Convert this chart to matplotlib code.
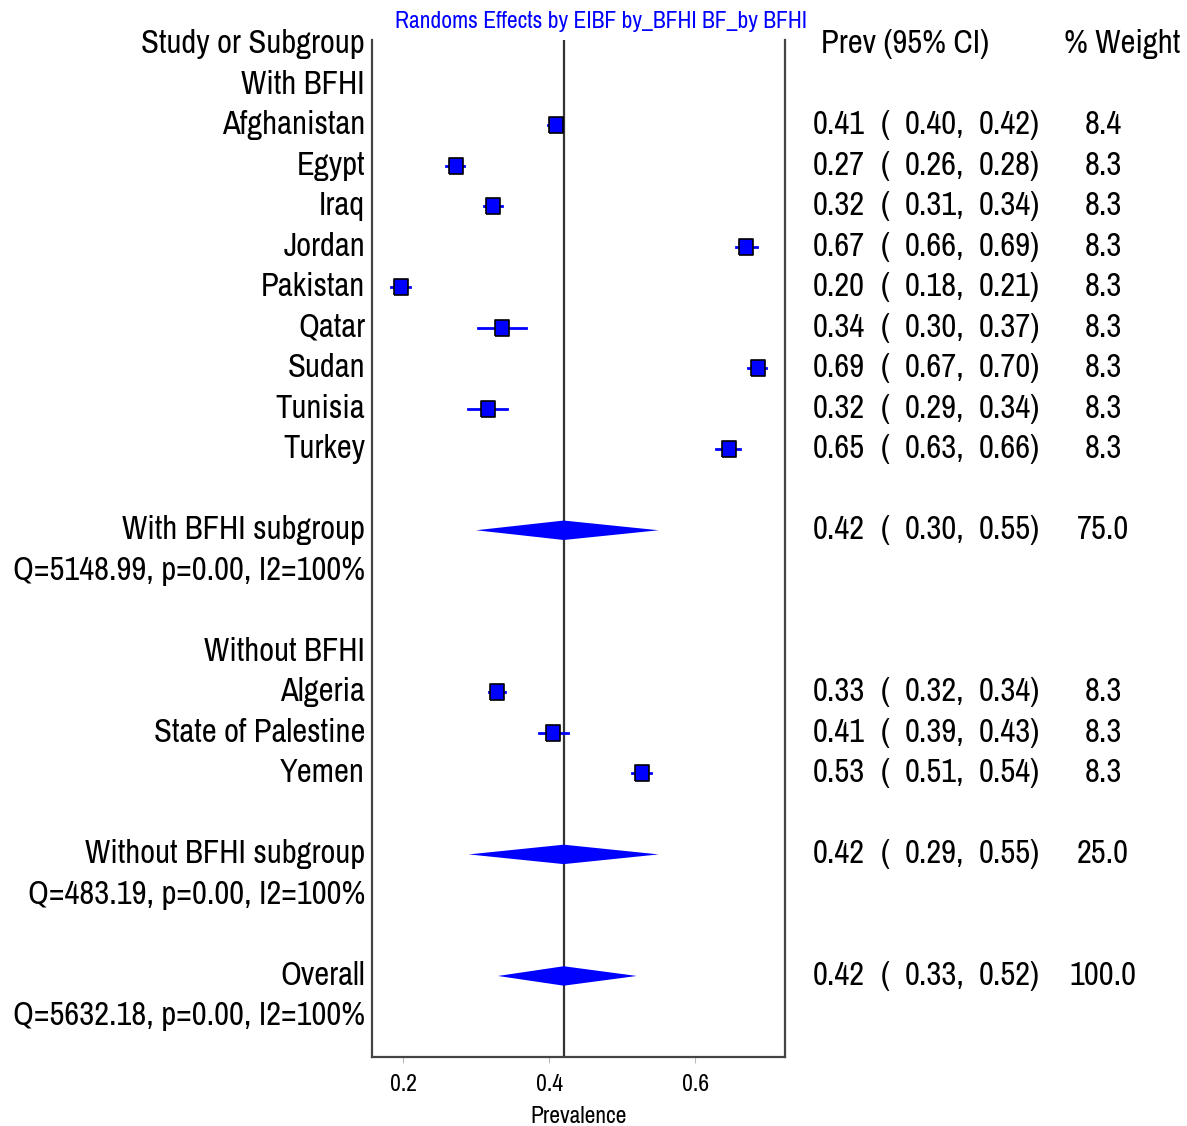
import matplotlib
matplotlib.use('Agg')
import matplotlib.pyplot as plt
from matplotlib import font_manager, transforms

names = set(f.name for f in font_manager.fontManager.ttflist)
font = next((n for n in ['Liberation Sans Narrow', 'Arial Narrow', 'Archivo Narrow', 'Roboto Condensed']
             if n in names), 'Liberation Sans')
plt.rcParams['font.family'] = [font, 'DejaVu Sans']

# rows of the table, top to bottom (row index = position)
labels = ['Study or Subgroup', 'With BFHI', 'Afghanistan', 'Egypt', 'Iraq', 'Jordan', 'Pakistan',
          'Qatar', 'Sudan', 'Tunisia', 'Turkey', '', 'With BFHI subgroup',
          'Q=5148.99, p=0.00, I2=100%', '', 'Without BFHI', 'Algeria', 'State of Palestine',
          'Yemen', '', 'Without BFHI subgroup', 'Q=483.19, p=0.00, I2=100%', '', 'Overall',
          'Q=5632.18, p=0.00, I2=100%']

study_rows = [2, 3, 4, 5, 6, 7, 8, 9, 10, 16, 17, 18]
prev = [0.409, 0.272, 0.323, 0.669, 0.197, 0.335, 0.686, 0.316, 0.646, 0.329, 0.406, 0.527]
lo = [0.399, 0.259, 0.311, 0.656, 0.184, 0.302, 0.672, 0.289, 0.628, 0.318, 0.386, 0.514]
hi = [0.417, 0.283, 0.336, 0.685, 0.210, 0.368, 0.697, 0.342, 0.662, 0.340, 0.426, 0.540]
weight = [8.4, 8.3, 8.3, 8.3, 8.3, 8.3, 8.3, 8.3, 8.3, 8.3, 8.3, 8.3]

pool_rows = [12, 20, 23]
pool_prev = [0.42, 0.42, 0.42]
pool_lo = [0.30, 0.29, 0.33]
pool_hi = [0.55, 0.55, 0.52]
pool_weight = [75.0, 25.0, 100.0]

overall = 0.42

fig = plt.figure(figsize=(11.87, 11.26), dpi=100)
ax = fig.add_axes([372 / 1187, 1 - 1057 / 1126, 413 / 1187, 1017 / 1126])

ax.axvline(overall, color='#333333', lw=1.6, zorder=1)

box = [(-0.42, -0.5), (0.42, -0.5), (0.42, 0.5), (-0.42, 0.5), (-0.42, -0.5)]
for r, p, l, h in zip(study_rows, prev, lo, hi):
    ax.plot([l, h], [r, r], color='blue', lw=2, zorder=2)
    ax.plot(p, r, marker=box, ms=12, color='blue', mec='black', mew=1.2, zorder=3)

dh = 0.24
for r, p, l, h in zip(pool_rows, pool_prev, pool_lo, pool_hi):
    ax.fill([l, p, h, p], [r, r - dh, r, r + dh], color='blue', lw=0, zorder=2)

ax.set_xlim(0.1575, 0.723)
ax.set_ylim(25, -0.1)
ax.set_yticks([])
ax.set_xticks([0.2, 0.4, 0.6])
ax.set_xticklabels(['0.2', '0.4', '0.6'], fontsize=17)
ax.tick_params(axis='x', colors='#bbbbbb', length=4, labelcolor='black', pad=8)
ax.set_xlabel('Prevalence', fontsize=17, labelpad=8)
ax.spines['top'].set_visible(False)
for s in ['left', 'right', 'bottom']:
    ax.spines[s].set_color('#444444')
    ax.spines[s].set_linewidth(1.6)

fig.text(601 / 1187, 1 - 22 / 1126, 'Randoms Effects by EIBF by_BFHI BF_by BFHI',
         color='blue', fontsize=17, ha='center', va='center')

tr = transforms.blended_transform_factory(fig.transFigure, ax.transData)
fs = 23.5
for i, lab in enumerate(labels):
    if lab:
        ax.text(365 / 1187, i, lab, transform=tr, ha='right', va='center', fontsize=fs, clip_on=False)

ax.text(821 / 1187, 0, 'Prev (95% CI)', transform=tr, ha='left', va='center', fontsize=fs)
ax.text(1064 / 1187, 0, '% Weight', transform=tr, ha='left', va='center', fontsize=fs)


def row_text(r, p, l, h, w):
    ax.text(813 / 1187, r, f'{p:.2f}', transform=tr, ha='left', va='center', fontsize=fs)
    ax.text(881 / 1187, r, '(', transform=tr, ha='left', va='center', fontsize=fs)
    ax.text(905 / 1187, r, f'{l:.2f},', transform=tr, ha='left', va='center', fontsize=fs)
    ax.text(979 / 1187, r, f'{h:.2f})', transform=tr, ha='left', va='center', fontsize=fs)
    ax.text(1103 / 1187, r, f'{w:.1f}', transform=tr, ha='center', va='center', fontsize=fs)


for r, p, l, h, w in zip(study_rows, prev, lo, hi, weight):
    row_text(r, p, l, h, w)
for r, p, l, h, w in zip(pool_rows, pool_prev, pool_lo, pool_hi, pool_weight):
    row_text(r, p, l, h, w)

fig.savefig('out.png', dpi=100)
